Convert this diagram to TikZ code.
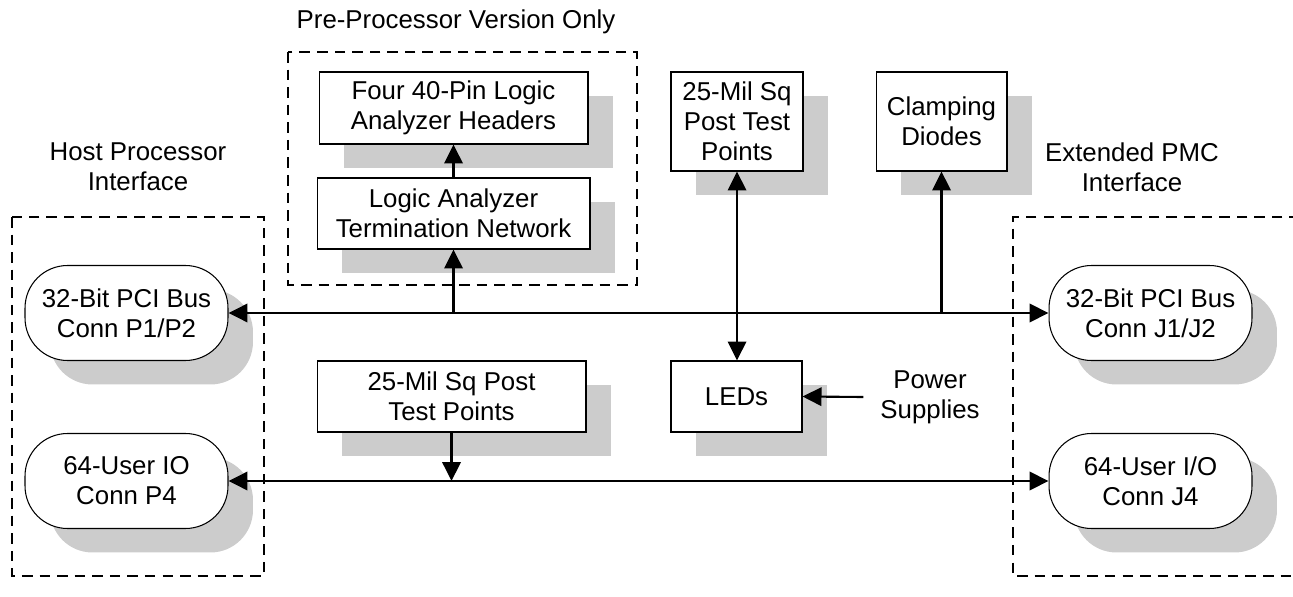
\documentclass[tikz,border=0pt]{standalone}
\usepackage{fontspec}
\setmainfont{Liberation Sans}
\usepackage{tikz}
\usetikzlibrary{shadows, arrows.meta}

\tikzset{
  blockshade/.style={drop shadow={shadow xshift=0.5cm, shadow yshift=-0.48cm, fill=black!20, opacity=1}},
  block/.style={draw, fill=white, line width=0.6pt, align=center, inner sep=0pt, blockshade,
                font=\fontsize{14.7}{17}\selectfont},
  connbox/.style={block, rounded corners=0.85cm, minimum width=4.06cm, minimum height=1.9cm},
  plain/.style={align=center, font=\fontsize{14.7}{17}\selectfont},
  region/.style={dashed, dash pattern=on 6pt off 4pt, line width=0.6pt},
  tip/.tip={Triangle[length=10.8pt, width=10.5pt]},
  bus/.style={line width=1.2pt, -tip},
  twoway/.style={line width=1.2pt, tip-tip}
}

\begin{document}
\begin{tikzpicture}[x=0.02cm, y=-0.02cm]
        \useasboundingbox (0,0) rectangle (1293,597);
        % Dashed regions
        \draw[region] (12,217) rectangle (264,576);
        \draw[region] (288,52) rectangle (637,285);
        \draw[region] (1300,217) -- (1013,217) -- (1013,576) -- (1300,576);
        % Region labels
        \node[plain] (hostlbl) at (138,167) {Host Processor\\Interface};
        \node[plain] (pmclbl) at (1132,167) {Extended PMC\\Interface};
        \node[plain] (prelbl) at (456,22) {Pre-Processor Version Only};
        % Connectors
        \node[connbox] (hostpci) at (126.5,313) {32-Bit PCI Bus\\Conn P1/P2};
        \node[connbox] (hostio) at (126.5,481) {64-User IO\\Conn P4};
        \node[connbox] (pmcpci) at (1150.5,313) {32-Bit PCI Bus\\Conn J1/J2};
        \node[connbox] (pmcio) at (1150.5,481) {64-User I/O\\Conn J4};
        % Boxes
        \node[block, minimum width=5.38cm, minimum height=1.44cm] (laheaders) at (453.5,108) {Four 40-Pin Logic\\Analyzer Headers};
        \node[block, minimum width=5.46cm, minimum height=1.42cm] (laterm) at (453.5,213.5) {Logic Analyzer\\Termination Network};
        \node[block, minimum width=2.64cm, minimum height=1.98cm] (tpupper) at (737,121.5) {25-Mil Sq\\Post Test\\Points};
        \node[block, minimum width=2.62cm, minimum height=1.98cm] (clamp) at (941.5,121.5) {Clamping\\Diodes};
        \node[block, minimum width=5.38cm, minimum height=1.42cm] (tplower) at (451.5,396.5) {25-Mil Sq Post\\Test Points};
        \node[block, minimum width=2.62cm, minimum height=1.42cm] (leds) at (736.5,396.5) {LEDs};
        \node[plain, inner xsep=9.6pt] (power) at (930,397) {Power\\Supplies};
        % Buses
        \draw[twoway] (hostpci.east) -- (pmcpci.west);
        \draw[twoway] (hostio.east) -- (pmcio.west);
        % Branches
        \draw[bus] (laterm.south |- hostpci.east) -- (laterm.south);
        \draw[bus] (laterm.north) -- (laterm.north |- laheaders.south);
        \draw[twoway] (tpupper.south) -- (tpupper.south |- leds.north);
        \draw[bus] (clamp.south |- pmcpci.west) -- (clamp.south);
        \draw[bus] (tplower.south) -- (tplower.south |- hostio.east);
        \draw[bus] (power.west) -- (leds.east);
\end{tikzpicture}
\end{document}
